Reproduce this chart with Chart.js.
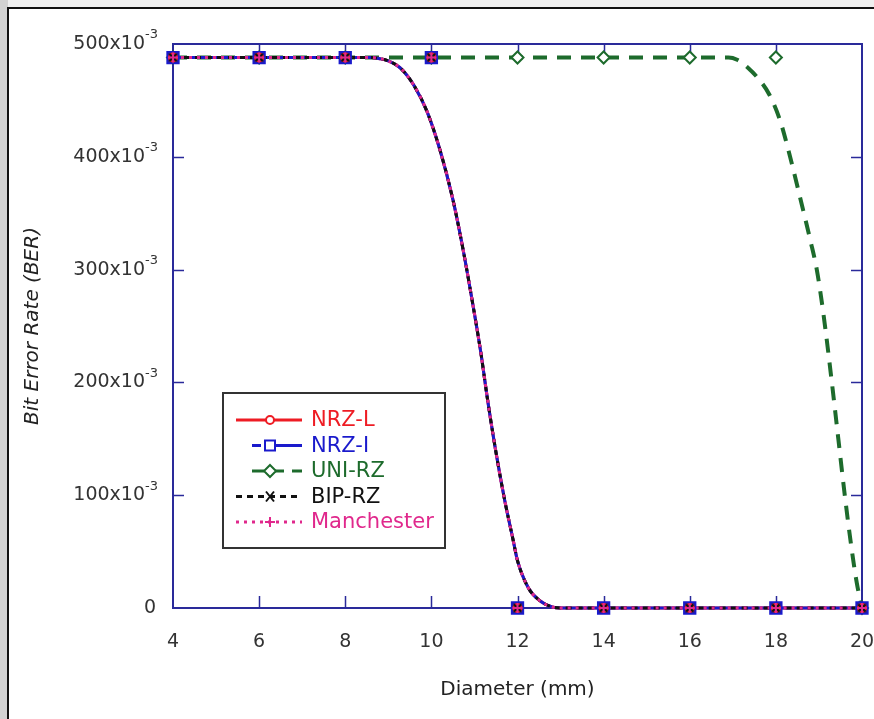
<!DOCTYPE html>
<html>
<head>
<meta charset="utf-8">
<script src="https://cdn.jsdelivr.net/npm/chart.js@4.4.1/dist/chart.umd.min.js"></script>
<style>
  html, body { margin: 0; padding: 0; background: #fff; }
  canvas { display: block; }
</style>
</head>
<body>
<canvas id="chart" width="874" height="719"></canvas>
<script>
// symbols are only placed every 2 mm
const markerX = [4, 6, 8, 10, 12, 14, 16, 18, 20];
const nrzMarkerY = [0.488, 0.488, 0.488, 0.488, 0, 0, 0, 0, 0];
const uniMarkerY = [0.488, 0.488, 0.488, 0.488, 0.488, 0.488, 0.488, 0.488, 0];

// smooth curve (NRZ-L, NRZ-I, BIP-RZ and Manchester lie on top of each other)
const dropX = [4, 8.6, 8.8, 9.0, 9.3, 9.6, 9.9, 10.2, 10.5, 10.75, 10.95, 11.15, 11.3, 11.5, 11.7, 11.9, 12.0, 12.25, 12.5, 12.8, 13.0, 20];
const dropY = [0.488, 0.488, 0.487, 0.485, 0.478, 0.463, 0.440, 0.406, 0.362, 0.315, 0.272, 0.226, 0.186, 0.138, 0.096, 0.060, 0.042, 0.018, 0.007, 0.001, 0, 0];

// UNI-RZ curve
const uniX = [4, 16.9, 17.1, 17.35, 17.6, 17.85, 18.1, 18.33, 18.6, 18.8, 18.95, 19.1, 19.3, 19.45, 19.6, 19.75, 19.88, 20];
const uniY = [0.488, 0.488, 0.486, 0.479, 0.469, 0.455, 0.432, 0.400, 0.358, 0.326, 0.300, 0.262, 0.200, 0.150, 0.100, 0.055, 0.022, 0];

const xTicks = [4, 6, 8, 10, 12, 14, 16, 18, 20];
const yTicks = [0, 0.1, 0.2, 0.3, 0.4, 0.5];
const yTickText = ['0', '100', '200', '300', '400', '500'];

const AXIS = '#2a2a9a';
const FONT = 'DejaVu Sans';

const toPts = (xs, ys) => xs.map((x, i) => ({ x: x, y: ys[i] }));

const series = [
  { label: 'NRZ-L', color: '#ee1c24', dash: [], width: 3, marker: 'circle', mx: 236 },
  { label: 'NRZ-I', color: '#1a1acc', dash: [], width: 3, marker: 'square', mx: 252 },
  { label: 'UNI-RZ', color: '#1d6b2c', dash: [14, 10], width: 4, marker: 'diamond', mx: 252 },
  { label: 'BIP-RZ', color: '#111111', dash: [6, 5], width: 3, marker: 'x', mx: 236 },
  { label: 'Manchester', color: '#e0288c', dash: [3, 5], width: 3, marker: 'plus', mx: 236 }
];

function lineSet(s, pts, order) {
  return {
    type: 'line', label: s.label, data: pts, borderColor: s.color, borderWidth: s.width,
    borderDash: s.dash, pointRadius: 0, cubicInterpolationMode: 'monotone',
    fill: false, clip: false, order: order
  };
}
function markerSet(s, ys, style, radius, bg, order) {
  return {
    type: 'scatter', label: s.label + ' symbols', data: toPts(markerX, ys), showLine: false,
    pointStyle: style, pointRadius: radius, pointBorderColor: s.color,
    pointBackgroundColor: bg, pointBorderWidth: 2, clip: false, order: order
  };
}

// draw a legend symbol by hand
function drawMark(ctx, kind, x, y, color) {
  ctx.save();
  ctx.setLineDash([]);
  ctx.strokeStyle = color;
  ctx.lineWidth = 2;
  ctx.fillStyle = '#fff';
  ctx.beginPath();
  if (kind === 'circle') {
    ctx.arc(x, y, 4, 0, Math.PI * 2); ctx.fill(); ctx.stroke();
  } else if (kind === 'square') {
    ctx.rect(x - 5, y - 5, 10, 10); ctx.fill(); ctx.stroke();
  } else if (kind === 'diamond') {
    ctx.moveTo(x, y - 6); ctx.lineTo(x + 6, y); ctx.lineTo(x, y + 6); ctx.lineTo(x - 6, y);
    ctx.closePath(); ctx.fill(); ctx.stroke();
  } else if (kind === 'x') {
    ctx.moveTo(x - 4, y - 5); ctx.lineTo(x + 4, y + 5);
    ctx.moveTo(x + 4, y - 5); ctx.lineTo(x - 4, y + 5); ctx.stroke();
  } else if (kind === 'plus') {
    ctx.moveTo(x - 5, y); ctx.lineTo(x + 5, y);
    ctx.moveTo(x, y - 5); ctx.lineTo(x, y + 5); ctx.stroke();
  }
  ctx.restore();
}

const framePlugin = {
  id: 'frame',
  beforeDraw(chart) {
    const ctx = chart.ctx;
    ctx.save();
    ctx.fillStyle = '#fff';
    ctx.fillRect(0, 0, chart.width, chart.height);
    ctx.fillStyle = '#efefef';
    ctx.fillRect(0, 0, chart.width, 8);
    ctx.fillStyle = '#d2d2d2';
    ctx.fillRect(0, 0, 8, chart.height);
    ctx.fillStyle = '#111';
    ctx.fillRect(8, 7, chart.width - 8, 2);
    ctx.fillRect(7, 7, 2, chart.height - 7);
    ctx.restore();
  },
  beforeDatasetsDraw(chart) {
    const { ctx, chartArea: a, scales } = chart;
    ctx.save();
    ctx.strokeStyle = AXIS;
    ctx.lineWidth = 2;
    ctx.strokeRect(a.left, a.top, a.right - a.left, a.bottom - a.top);
    ctx.lineWidth = 1.5;
    ctx.beginPath();
    xTicks.forEach(v => {
      if (v === xTicks[0] || v === xTicks[xTicks.length - 1]) return;
      const px = Math.round(scales.x.getPixelForValue(v)) + 0.5;
      ctx.moveTo(px, a.bottom); ctx.lineTo(px, a.bottom - 12);
      ctx.moveTo(px, a.top); ctx.lineTo(px, a.top + 9);
    });
    yTicks.forEach(v => {
      if (v === yTicks[0] || v === yTicks[yTicks.length - 1]) return;
      const py = Math.round(scales.y.getPixelForValue(v)) + 0.5;
      ctx.moveTo(a.left, py); ctx.lineTo(a.left + 11, py);
      ctx.moveTo(a.right, py); ctx.lineTo(a.right - 11, py);
    });
    ctx.stroke();
    ctx.restore();
  },
  afterDraw(chart) {
    const { ctx, scales } = chart;
    ctx.save();
    // y tick labels with superscript exponent
    ctx.fillStyle = '#333';
    ctx.textBaseline = 'middle';
    ctx.textAlign = 'right';
    yTicks.forEach((v, i) => {
      const py = scales.y.getPixelForValue(v);
      if (v === 0) {
        ctx.font = '19px "' + FONT + '"';
        ctx.fillText(yTickText[i], 156, py);
        return;
      }
      ctx.font = '13px "' + FONT + '"';
      ctx.fillText('-3', 158, py - 9);
      const sw = ctx.measureText('-3').width;
      ctx.font = '19px "' + FONT + '"';
      ctx.fillText(yTickText[i] + 'x10', 158 - sw, py);
    });

    // legend box
    const bx = 223, by = 393, bw = 222, bh = 155;
    ctx.fillStyle = '#fff';
    ctx.fillRect(bx, by, bw, bh);
    ctx.strokeStyle = '#333';
    ctx.lineWidth = 2;
    ctx.strokeRect(bx, by, bw, bh);
    ctx.textAlign = 'left';
    ctx.font = '21px "' + FONT + '"';
    series.forEach((s, i) => {
      const y = 420 + i * 25.5;
      ctx.strokeStyle = s.color;
      ctx.lineWidth = 3;
      ctx.setLineDash(s.marker === 'square' ? [] : (s.marker === 'diamond' ? [12, 8] : s.dash));
      ctx.beginPath();
      if (s.marker === 'square') {
        ctx.moveTo(252, y); ctx.lineTo(261, y);
        ctx.moveTo(266, y); ctx.lineTo(302, y);
      } else if (s.marker === 'diamond') {
        ctx.moveTo(252, y); ctx.lineTo(302, y);
      } else {
        ctx.moveTo(s.mx, y); ctx.lineTo(302, y);
      }
      ctx.stroke();
      drawMark(ctx, s.marker, 270, y, s.color);
      ctx.fillStyle = s.color;
      ctx.fillText(s.label, 311, y + 1);
    });
    ctx.restore();
  }
};

const datasets = [
  lineSet(series[2], toPts(uniX, uniY), 20),
  lineSet(series[0], toPts(dropX, dropY), 19),
  lineSet(series[1], toPts(dropX, dropY), 18),
  lineSet(series[3], toPts(dropX, dropY), 17),
  lineSet(series[4], toPts(dropX, dropY), 16),
  markerSet(series[2], uniMarkerY, 'rectRot', 6, '#fff', 11),
  markerSet(series[1], nrzMarkerY, 'rect', 8, '#2b1f7a', 10),
  markerSet(series[0], nrzMarkerY, 'circle', 4, 'rgba(255,255,255,0)', 9),
  markerSet(series[3], nrzMarkerY, 'crossRot', 5, 'rgba(0,0,0,0)', 8),
  markerSet(series[4], nrzMarkerY, 'cross', 5, 'rgba(0,0,0,0)', 7)
];

new Chart(document.getElementById('chart'), {
  type: 'line',
  data: { datasets: datasets },
  options: {
    responsive: false,
    animation: false,
    layout: { padding: { left: 0, top: 44, right: 12, bottom: 0 } },
    plugins: { legend: { display: false }, tooltip: { enabled: false } },
    scales: {
      x: {
        type: 'linear', min: 4, max: 20,
        afterFit: s => { s.height = 111; s.paddingLeft = 0; s.paddingRight = 0; },
        afterBuildTicks: s => { s.ticks = xTicks.map(v => ({ value: v })); },
        grid: { display: false, drawTicks: false },
        border: { display: false },
        ticks: { padding: 23, color: '#333', font: { family: FONT, size: 19 } },
        title: { display: true, text: 'Diameter (mm)', color: '#222',
          font: { family: FONT, size: 20 }, padding: { top: 0, bottom: 17 } }
      },
      y: {
        type: 'linear', min: 0, max: 0.5,
        afterFit: s => { s.width = 173; s.paddingTop = 0; s.paddingBottom = 0; },
        afterBuildTicks: s => { s.ticks = yTicks.map(v => ({ value: v })); },
        grid: { display: false, drawTicks: false },
        border: { display: false },
        ticks: { display: false },
        title: { display: true, text: 'Bit Error Rate (BER)', color: '#222',
          font: { family: FONT, size: 20, style: 'italic' }, padding: { top: 21, bottom: 0 } }
      }
    }
  },
  plugins: [framePlugin]
});
</script>
</body>
</html>
